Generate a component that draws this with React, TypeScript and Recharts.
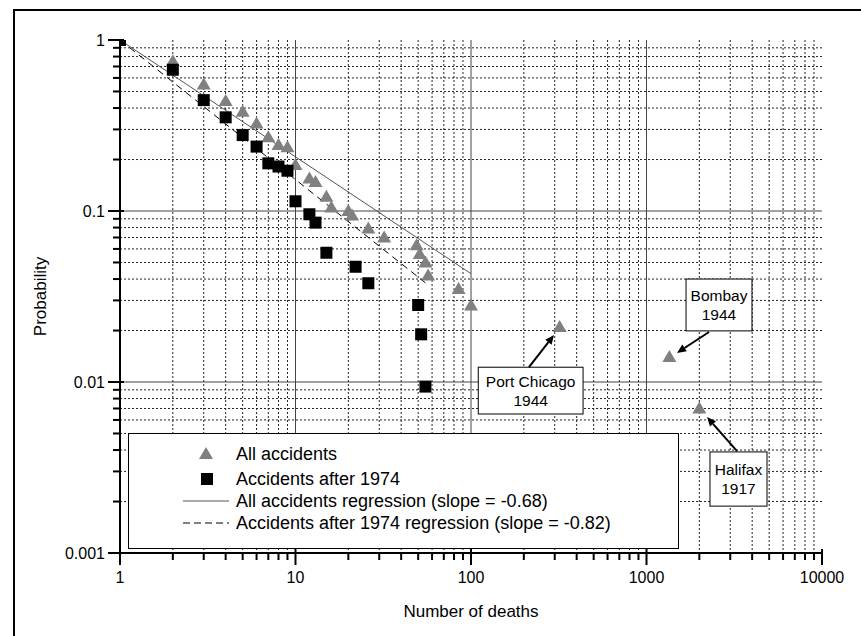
import React from 'react';
import {
  ComposedChart, XAxis, YAxis, CartesianGrid, Scatter, Line,
  ReferenceLine, ReferenceArea, Legend,
} from 'recharts';

// values (deaths, probability)
const allAccidents = [
  { x: 1, y: 1 }, { x: 2, y: 0.75 }, { x: 3, y: 0.55 }, { x: 4, y: 0.44 },
  { x: 5, y: 0.38 }, { x: 6, y: 0.325 }, { x: 7, y: 0.27 }, { x: 8, y: 0.243 },
  { x: 9, y: 0.236 }, { x: 10, y: 0.186 }, { x: 12, y: 0.155 }, { x: 13, y: 0.148 },
  { x: 15, y: 0.121 }, { x: 16, y: 0.105 }, { x: 20, y: 0.1 }, { x: 21, y: 0.094 },
  { x: 26, y: 0.079 }, { x: 32, y: 0.07 }, { x: 49, y: 0.063 }, { x: 51, y: 0.056 },
  { x: 55, y: 0.05 }, { x: 57, y: 0.042 }, { x: 85, y: 0.035 }, { x: 100, y: 0.028 },
  { x: 320, y: 0.021 }, { x: 1350, y: 0.014 }, { x: 2000, y: 0.007 },
];

const after1974 = [
  { x: 1, y: 1 }, { x: 2, y: 0.67 }, { x: 3, y: 0.445 }, { x: 4, y: 0.353 },
  { x: 5, y: 0.278 }, { x: 6, y: 0.238 }, { x: 7, y: 0.19 }, { x: 8, y: 0.182 },
  { x: 9, y: 0.172 }, { x: 10, y: 0.114 }, { x: 12, y: 0.0957 }, { x: 13, y: 0.0855 },
  { x: 15, y: 0.057 }, { x: 22, y: 0.0472 }, { x: 26, y: 0.0378 }, { x: 50, y: 0.0282 },
  { x: 52, y: 0.019 }, { x: 55, y: 0.0094 },
];

// regression end points
const allRegression = [{ x: 1, y: 1 }, { x: 100, y: 0.043 }];
const after1974Regression = [{ x: 1, y: 1 }, { x: 55, y: 0.038 }];

const xMajorTicks = [1, 10, 100, 1000, 10000];
const xMinorTicks = [
  2, 3, 4, 5, 6, 7, 8, 9,
  20, 30, 40, 50, 60, 70, 80, 90,
  200, 300, 400, 500, 600, 700, 800, 900,
  2000, 3000, 4000, 5000, 6000, 7000, 8000, 9000,
];
const yMajorTicks = [0.001, 0.01, 0.1, 1];
const yMinorTicks = [
  0.002, 0.003, 0.004, 0.005, 0.006, 0.007, 0.008, 0.009,
  0.02, 0.03, 0.04, 0.05, 0.06, 0.07, 0.08, 0.09,
  0.2, 0.3, 0.4, 0.5, 0.6, 0.7, 0.8, 0.9,
];
const xDecadeLines = [10, 100, 1000];
const yDecadeLines = [0.1, 0.01];

// annotation boxes: [x1, x2, y1, y2] in data units, plus arrow [from, to]
const annotations = [
  { lines: ['Port Chicago', '1944'], box: [110, 435, 0.0122, 0.0065], arrow: [[214, 0.0122], [297, 0.0188]] },
  { lines: ['Bombay', '1944'], box: [1680, 3990, 0.040, 0.0199], arrow: [[2270, 0.0196], [1492, 0.0148]] },
  { lines: ['Halifax', '1917'], box: [2300, 4860, 0.0039, 0.00188], arrow: [[3280, 0.00394], [2213, 0.00624]] },
];

const FONT = '"Liberation Sans", Arial, sans-serif';
const GRAY = '#808080';

const Triangle = ({ cx, cy }: any) => (
  <polygon points={`${cx},${cy - 7} ${cx + 7},${cy + 5} ${cx - 7},${cy + 5}`} fill={GRAY} />
);
const Square = ({ cx, cy }: any) => (
  <rect x={cx - 6} y={cy - 6} width={12} height={12} fill="#000" />
);

const XTick = ({ x, y, payload }: any) => {
  const major = xMajorTicks.includes(payload.value);
  return (
    <g>
      <line x1={x} x2={x} y1={major ? y - 4 : y} y2={major ? y + 12 : y + 7} stroke="#000" strokeWidth={2} />
      {major && (
        <text x={x} y={y + 30} textAnchor="middle" fontSize={16} fill="#000">{payload.value}</text>
      )}
    </g>
  );
};

const YTick = ({ x, y, payload }: any) => {
  const major = yMajorTicks.includes(payload.value);
  return (
    <g>
      <line x1={major ? x - 12 : x - 7} x2={major ? x + 4 : x} y1={y} y2={y} stroke="#000" strokeWidth={2} />
      {major && (
        <text x={x - 15} y={y} dy="0.35em" textAnchor="end" fontSize={16} fill="#000">{payload.value}</text>
      )}
    </g>
  );
};

const AnnotBox = ({ x, y, width, height, lines }: any) => {
  const cx = x + width / 2;
  const cy = y + height / 2;
  return (
    <g>
      <rect x={x} y={y} width={width} height={height} fill="#fff" stroke="#000" strokeWidth={1} />
      <text x={cx} y={cy - 9} dy="0.35em" textAnchor="middle" fontSize={15.5} fill="#000">{lines[0]}</text>
      <text x={cx} y={cy + 10} dy="0.35em" textAnchor="middle" fontSize={15.5} fill="#000">{lines[1]}</text>
    </g>
  );
};

const Arrow = ({ x1, y1, x2, y2 }: any) => {
  const a = Math.atan2(y2 - y1, x2 - x1);
  const len = 9;
  const w = 4;
  const bx = x2 - len * Math.cos(a);
  const by = y2 - len * Math.sin(a);
  const px = -Math.sin(a) * w;
  const py = Math.cos(a) * w;
  return (
    <g>
      <line x1={x1} y1={y1} x2={bx} y2={by} stroke="#000" strokeWidth={2} />
      <polygon points={`${x2},${y2} ${bx + px},${by + py} ${bx - px},${by - py}`} fill="#000" />
    </g>
  );
};

const LegendBox = () => (
  <svg width={551} height={116} style={{ display: 'block' }}>
    <rect x={0.5} y={0.5} width={550} height={115} fill="#fff" stroke="#000" strokeWidth={1} />
    <Triangle cx={78} cy={21} />
    <text x={108} y={21} dy="0.35em" fontSize={18} fill="#000">All accidents</text>
    <Square cx={79} cy={46} />
    <text x={108} y={46} dy="0.35em" fontSize={18} fill="#000">Accidents after 1974</text>
    <line x1={55} x2={101} y1={68} y2={68} stroke="#555" strokeWidth={1} />
    <text x={108} y={68} dy="0.35em" fontSize={18} fill="#000">All accidents regression (slope = -0.68)</text>
    <line x1={55} x2={101} y1={90} y2={90} stroke="#000" strokeWidth={1} strokeDasharray="7 4" />
    <text x={108} y={90} dy="0.35em" fontSize={18} fill="#000">Accidents after 1974 regression (slope = -0.82)</text>
  </svg>
);

export default function App() {
  return (
    <div style={{ position: 'relative', width: 861, height: 636, overflow: 'hidden', fontFamily: FONT, background: '#fff' }}>
      <style>{'body{margin:0}'}</style>
      <div style={{ position: 'absolute', left: 13, top: 9, width: 900, height: 700, border: '2px solid #000' }} />
      <ComposedChart width={861} height={636} margin={{ top: 40, right: 39, left: 0, bottom: 0 }}>
        <CartesianGrid
          verticalValues={xMinorTicks}
          horizontalValues={yMinorTicks}
          stroke="#222"
          strokeDasharray="2 2"
        />
        <CartesianGrid
          verticalValues={xDecadeLines}
          horizontalValues={yDecadeLines}
          stroke="#444"
        />
        <XAxis
          dataKey="x"
          type="number"
          scale="log"
          domain={[1, 10000]}
          ticks={[...xMajorTicks, ...xMinorTicks]}
          interval={0}
          tick={<XTick />}
          tickLine={false}
          tickSize={0}
          tickMargin={0}
          axisLine={{ stroke: '#000', strokeWidth: 2 }}
          height={83}
          allowDataOverflow
          label={(p: any) => {
            const vb = p.viewBox;
            return (
              <text x={vb.x + vb.width / 2} y={vb.y + 64} textAnchor="middle" fontSize={17} fill="#000">
                Number of deaths
              </text>
            );
          }}
        />
        <YAxis
          type="number"
          scale="log"
          domain={[0.001, 1]}
          ticks={[...yMajorTicks, ...yMinorTicks]}
          interval={0}
          tick={<YTick />}
          tickLine={false}
          tickSize={0}
          tickMargin={0}
          axisLine={{ stroke: '#000', strokeWidth: 2 }}
          width={120}
          allowDataOverflow
          label={(p: any) => {
            const vb = p.viewBox;
            const cy = vb.y + vb.height / 2;
            return (
              <text x={40} y={cy} transform={`rotate(-90 40 ${cy})`} dy="0.35em" textAnchor="middle" fontSize={17} fill="#000">
                Probability
              </text>
            );
          }}
        />
        {annotations.map((a) => (
          <ReferenceArea
            key={a.lines[0]}
            x1={a.box[0]}
            x2={a.box[1]}
            y1={a.box[2]}
            y2={a.box[3]}
            shape={(p: any) => <AnnotBox {...p} lines={a.lines} />}
          />
        ))}
        {annotations.map((a) => (
          <ReferenceLine
            key={`arrow-${a.lines[0]}`}
            segment={[{ x: a.arrow[0][0], y: a.arrow[0][1] }, { x: a.arrow[1][0], y: a.arrow[1][1] }]}
            shape={(p: any) => <Arrow {...p} />}
          />
        ))}
        <Line data={allRegression} dataKey="y" stroke="#555" strokeWidth={1} dot={false} isAnimationActive={false} />
        <Line data={after1974Regression} dataKey="y" stroke="#000" strokeWidth={1} strokeDasharray="7 5" dot={false} isAnimationActive={false} />
        <Scatter data={allAccidents} dataKey="y" shape={<Triangle />} isAnimationActive={false} />
        <Scatter data={after1974} dataKey="y" shape={<Square />} isAnimationActive={false} />
        <Legend
          layout="horizontal"
          verticalAlign="middle"
          align="center"
          wrapperStyle={{ left: 128, top: 433, width: 551, height: 116 }}
          content={() => <LegendBox />}
        />
      </ComposedChart>
    </div>
  );
}
